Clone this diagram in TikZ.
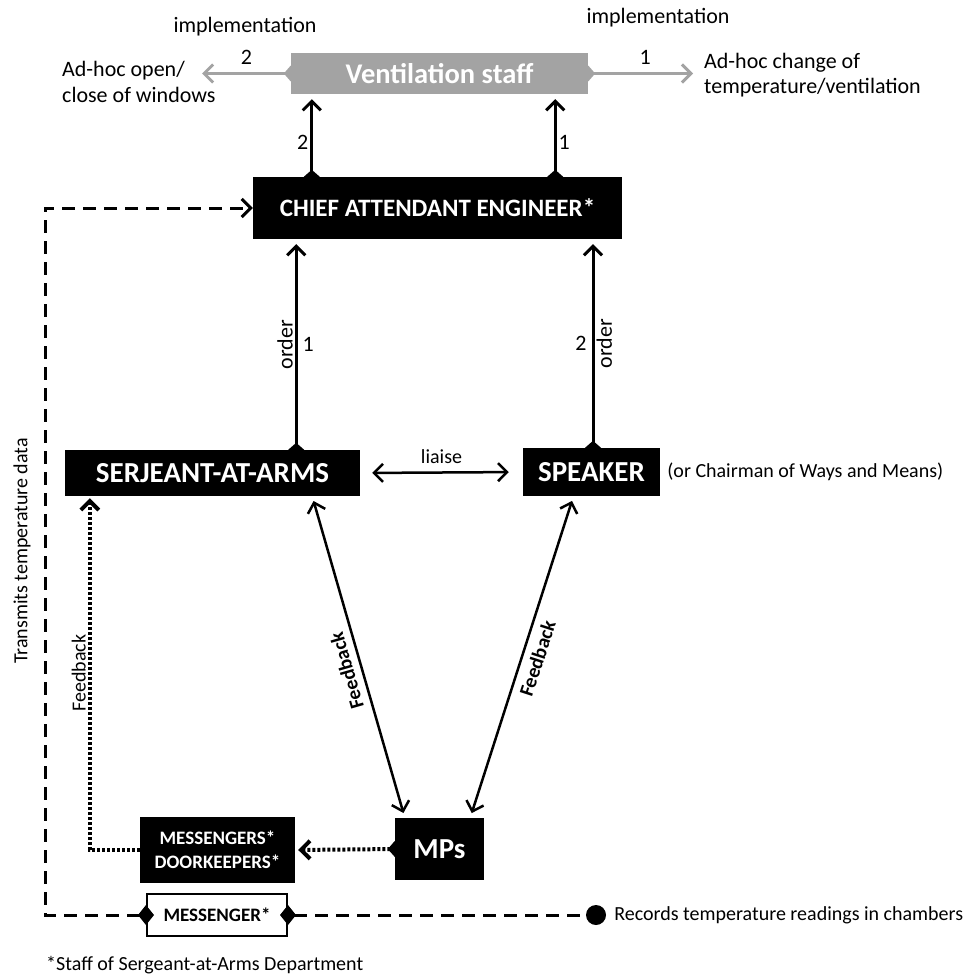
\documentclass[tikz,border=0pt]{standalone}
\usepackage{fontspec}
\setmainfont{Carlito}
\usetikzlibrary{arrows.meta}
\definecolor{ventgray}{RGB}{163,163,163}

\begin{document}
\begin{tikzpicture}[
        x=1pt, y=-1pt,
        black box/.style={
          fill=black, text=white, inner sep=0pt,
          font=\bfseries\fontsize{29}{32}\selectfont,
        },
        staff box/.style={
          fill=ventgray, text=white, inner sep=0pt,
          font=\bfseries\fontsize{28.5}{32}\selectfont,
        },
        small box/.style={
          black box, align=center,
          font=\bfseries\fontsize{19}{24}\selectfont,
        },
        top label/.style={
          font=\fontsize{22}{25.5}\selectfont, inner sep=2pt,
        },
        side label/.style={
          font=\fontsize{20}{23}\selectfont, inner sep=2pt,
        },
        feedback label/.style={
          font=\bfseries\fontsize{20}{23}\selectfont, inner sep=7pt,
        },
        order arrow/.style={
          line width=3pt, shorten <=-7pt, shorten >=5pt,
          {Diamond[length=14pt,width=16pt]}-{Straight Barb[length=9pt,width=18pt]},
        },
        gray arrow/.style={
          order arrow, draw=ventgray, shorten >=0pt,
        },
        two way/.style={
          line width=2.5pt, shorten <=5pt, shorten >=5pt,
          {Straight Barb[length=9pt,width=18pt]}-{Straight Barb[length=9pt,width=18pt]},
        },
        dotted feed/.style={
          line width=4pt, dash pattern=on 3pt off 2pt,
        },
        dashed data/.style={
          line width=3pt, dash pattern=on 13pt off 8pt,
        },
        ]
        \useasboundingbox (0,0) rectangle (972,974);

        \node [staff box, minimum width=297, minimum height=41] (staff) at (439.5,73.5) {Ventilation staff};
        \node [black box, font=\bfseries\fontsize{25}{28}\selectfont, minimum width=369, minimum height=62] (chief) at (437.5,208) {CHIEF ATTENDANT ENGINEER*};
        \node [black box, minimum width=295, minimum height=46] (serjeant) at (212.5,473) {SERJEANT-AT-ARMS};
        \node [black box, minimum width=137, minimum height=48] (speaker) at (591.5,472) {SPEAKER};
        \node [side label, anchor=west, xshift=5pt] (chairman) at (speaker.east) {(or Chairman of Ways and Means)};
        \node [black box, minimum width=89, minimum height=62] (mps) at (439.5,849) {MPs};
        \node [small box, minimum width=155, minimum height=66] (doormen) at (217.5,850) {MESSENGERS*\\DOORKEEPERS*};
        \node [small box, fill=white, text=black, draw=black, line width=2pt, minimum width=140, minimum height=42] (messenger) at (217,915) {MESSENGER*};
        \node [circle, fill=black, minimum size=20, inner sep=0pt] (readings) at (596,915) {};
        \node [side label, anchor=west, xshift=6pt] (records) at (readings.east) {Records temperature readings in chambers};
        \node [side label, anchor=west] (footnote) at (44,965) {*Staff of Sergeant-at-Arms Department};

        \node [top label, align=left, anchor=west] (windows) at (60,82) {Ad-hoc open/\\close of windows};
        \node [top label, align=left, anchor=west] (change) at (702,75) {Ad-hoc change of\\temperature/ventilation};
        \node [top label] (impl left) at (245,27) {implementation};
        \node [top label] (impl right) at (658,18) {implementation};
        \node [side label, rotate=90] (transmits) at (22,551) {Transmits temperature data};
        \coordinate (windows tip) at (202,73.5);
        \coordinate (data corner) at (45,208);

        \draw [gray arrow] (staff.west) -- (windows tip)
          node [top label, midway, above=5pt] {2};
        \draw [gray arrow, shorten >=9pt] (staff.east) -- (change.west |- staff.east)
          node [top label, midway, above=5pt] {1};

        \draw [order arrow] ([xshift=59pt]chief.north west) -- ([xshift=59pt]chief.north west |- staff.south)
          node [top label, pos=0.42, left] {2};
        \draw [order arrow] ([xshift=-67pt]chief.north east) -- ([xshift=-67pt]chief.north east |- staff.south)
          node [top label, pos=0.42, right] {1};

        \draw [order arrow] ([xshift=-64pt]serjeant.north east) -- ([xshift=-64pt]serjeant.north east |- chief.south)
          node [top label, midway, rotate=90, anchor=south] {order}
          node [top label, midway, right=3pt] {1};
        \draw [order arrow] ([xshift=1.5pt]speaker.north) -- ([xshift=1.5pt]speaker.north |- chief.south)
          node [top label, midway, left=3pt] {2}
          node [top label, midway, rotate=90, anchor=north] {order};

        \draw [two way, shorten <=12pt, shorten >=14pt] (serjeant.east) -- (speaker.west)
          node [side label, midway, above=6pt] {liaise};

        \draw [two way] ([xshift=-48pt]serjeant.south east) -- ([xshift=10pt]mps.north west)
          node [feedback label, pos=0.53, rotate=106, anchor=south] {Feedback};
        \draw [two way] ([xshift=-18pt]speaker.south) -- ([xshift=-14pt]mps.north east)
          node [feedback label, pos=0.49, rotate=72, anchor=north] {Feedback};

        \draw [dotted feed, shorten <=-7pt, shorten >=3pt,
          {Diamond[length=14pt,width=16pt]}-{Straight Barb[length=9pt,width=18pt]}]
          (mps.west) -- (doormen.east);
        \draw [dotted feed, shorten >=2pt, -{Straight Barb[length=9pt,width=18pt]}]
          (doormen.west) -| ([xshift=25pt]serjeant.south west)
          node [side label, pos=0.75, rotate=90, anchor=south] {Feedback};

        \draw [dashed data, shorten <=-8pt,
          {Diamond[length=16pt,width=20pt]}-{Straight Barb[length=9pt,width=18pt]}]
          (messenger.west) -| (data corner) -- (chief.west);
        \draw [dashed data, shorten <=-8pt, {Diamond[length=16pt,width=20pt]}-]
          (messenger.east) -- (readings.west);
      \end{tikzpicture}
\end{document}
